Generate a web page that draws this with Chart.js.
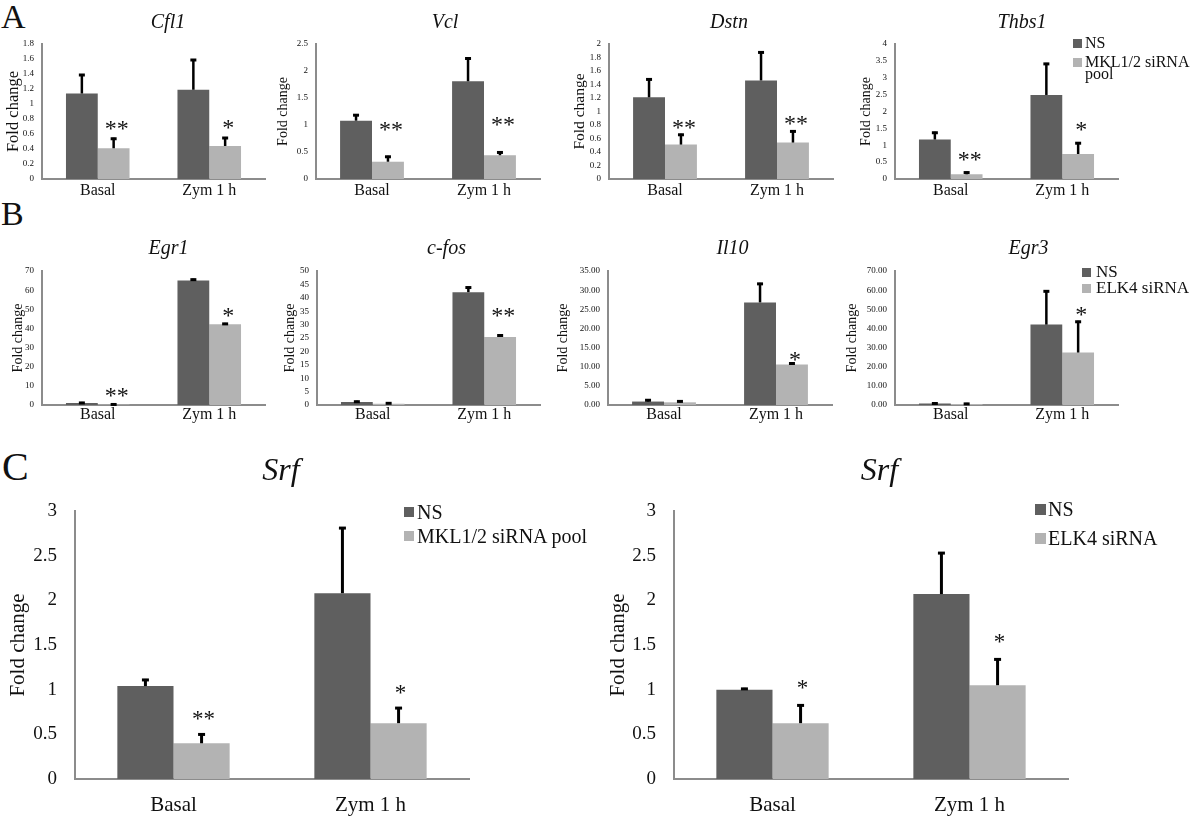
<!DOCTYPE html>
<html>
<head>
<meta charset="utf-8">
<script src="https://cdn.jsdelivr.net/npm/chart.js@4.4.1/dist/chart.umd.min.js"></script>
<style>
  body { margin: 0; width: 1200px; height: 818px; position: relative; overflow: hidden; background: #fff; font-family: "Liberation Serif", serif; color: #111; }
  canvas { position: absolute; }
  .letter { position: absolute; line-height: 1; }
  .lg { position: absolute; }
  .lg .sq { position: absolute; left: 0; }
  .lg .tx { position: absolute; white-space: normal; }
</style>
</head>
<body>
<div class="letter" style="left:1px;top:0px;font-size:34px">A</div>
<div class="letter" style="left:1px;top:197px;font-size:34px">B</div>
<div class="letter" style="left:2px;top:447px;font-size:40px">C</div>
<script>
// ---- data ----
const categories = ['Basal', 'Zym 1 h'];
const mklLabels = ['NS', 'MKL1/2 siRNA pool'];
const elkLabels = ['NS', 'ELK4 siRNA'];
const seriesColors = ['#5f5f5f', '#b3b3b3'];

// panel A (MKL1/2 knockdown)
const cfl1NS = [1.14, 1.19];
const cfl1NSErr = [0.26, 0.41];
const cfl1KD = [0.41, 0.44];
const cfl1KDErr = [0.14, 0.12];
const cfl1Sig = ['**', '*'];
const cfl1Ticks = [0, 0.2, 0.4, 0.6, 0.8, 1, 1.2, 1.4, 1.6, 1.8];

const vclNS = [1.08, 1.81];
const vclNSErr = [0.12, 0.44];
const vclKD = [0.32, 0.44];
const vclKDErr = [0.11, 0.07];
const vclSig = ['**', '**'];
const vclTicks = [0, 0.5, 1, 1.5, 2, 2.5];

const dstnNS = [1.21, 1.46];
const dstnNSErr = [0.28, 0.43];
const dstnKD = [0.51, 0.54];
const dstnKDErr = [0.16, 0.18];
const dstnSig = ['**', '**'];
const dstnTicks = [0, 0.2, 0.4, 0.6, 0.8, 1, 1.2, 1.4, 1.6, 1.8, 2];

const thbs1NS = [1.17, 2.49];
const thbs1NSErr = [0.23, 0.95];
const thbs1KD = [0.14, 0.74];
const thbs1KDErr = [0.08, 0.35];
const thbs1Sig = ['**', '*'];
const thbs1Ticks = [0, 0.5, 1, 1.5, 2, 2.5, 3, 3.5, 4];

// panel B (ELK4 knockdown)
const egr1NS = [1.0, 65.1];
const egr1NSErr = [0.6, 0.9];
const egr1KD = [0.3, 42.2];
const egr1KDErr = [0.5, 0.7];
const egr1Sig = ['**', '*'];
const egr1Ticks = [0, 10, 20, 30, 40, 50, 60, 70];

const cfosNS = [1.1, 42.1];
const cfosNSErr = [0.5, 2.1];
const cfosKD = [0.5, 25.4];
const cfosKDErr = [0.5, 0.9];
const cfosSig = ['', '**'];
const cfosTicks = [0, 5, 10, 15, 20, 25, 30, 35, 40, 45, 50];

const il10NS = [0.9, 26.8];
const il10NSErr = [0.6, 5.1];
const il10KD = [0.7, 10.6];
const il10KDErr = [0.5, 0.5];
const il10Sig = ['', '*'];
const il10Ticks = [0, 5, 10, 15, 20, 25, 30, 35];

const egr3NS = [0.8, 42.0];
const egr3NSErr = [0.5, 17.9];
const egr3KD = [0.5, 27.4];
const egr3KDErr = [0.6, 16.6];
const egr3Sig = ['', '*'];
const egr3Ticks = [0, 10, 20, 30, 40, 50, 60, 70];

// panel C (Srf)
const srfMklNS = [1.04, 2.08];
const srfMklNSErr = [0.08, 0.74];
const srfMklKD = [0.40, 0.625];
const srfMklKDErr = [0.11, 0.18];
const srfMklSig = ['**', '*'];

const srfElkNS = [1.0, 2.07];
const srfElkNSErr = [0.02, 0.47];
const srfElkKD = [0.625, 1.05];
const srfElkKDErr = [0.21, 0.30];
const srfElkSig = ['*', '*'];
const srfTicks = [0, 0.5, 1, 1.5, 2, 2.5, 3];

// ---- drawing ----
const SERIF = '"Liberation Serif", "Times New Roman", serif';
const INK = '#111';

// error bars, significance marks and the italic gene title
const extras = {
  id: 'extras',
  afterDatasetsDraw(chart, args, o) {
    const { ctx, chartArea } = chart;
    const y = chart.scales.y;
    ctx.save();
    chart.data.datasets.forEach((ds, di) => {
      chart.getDatasetMeta(di).data.forEach((bar, i) => {
        const top = y.getPixelForValue(ds.data[i] + ds.errors[i]);
        ctx.strokeStyle = '#000';
        ctx.lineWidth = o.errWidth;
        ctx.beginPath();
        ctx.moveTo(bar.x, bar.y);
        ctx.lineTo(bar.x, top);
        ctx.stroke();
        ctx.lineWidth = 3;
        ctx.beginPath();
        ctx.moveTo(bar.x - o.cap / 2, top + 1);
        ctx.lineTo(bar.x + o.cap / 2, top + 1);
        ctx.stroke();
        const mark = ds.marks ? ds.marks[i] : '';
        if (mark) {
          ctx.fillStyle = INK;
          ctx.font = o.sigSize + 'px ' + SERIF;
          ctx.textAlign = 'center';
          ctx.textBaseline = 'alphabetic';
          ctx.fillText(mark, bar.x + o.sigDx, top - o.sigGap);
        }
      });
    });
    ctx.fillStyle = INK;
    ctx.font = 'italic ' + o.titleSize + 'px ' + SERIF;
    ctx.textAlign = 'center';
    ctx.textBaseline = 'middle';
    ctx.fillText(o.title, (chartArea.left + chartArea.right) / 2 + o.titleDx, chartArea.top - o.titleRise);
    ctx.restore();
  }
};

const rowA = { tickSize: 9, tickPad: 8, xSize: 16, xPad: 2, xH: 30, titleSize: 20, titleRise: 21, padTop: 36, errWidth: 2.5, cap: 6, sigSize: 24, sigDx: 3 };
const rowB = { tickSize: 9, tickPad: 8, xSize: 16, xPad: 0, xH: 28, titleSize: 20, titleRise: 22, padTop: 38, errWidth: 2.5, cap: 6, sigSize: 24, sigDx: 3 };
const rowC = { tickSize: 19, tickPad: 18, xSize: 21, xPad: 14, xH: 45, titleSize: 32, titleRise: 39, padTop: 62, errWidth: 3, cap: 7, sigSize: 23, sigDx: 2 };

const panels = [
  { row: rowA, title: 'Cfl1', labels: mklLabels, ns: cfl1NS, nsErr: cfl1NSErr, kd: cfl1KD, kdErr: cfl1KDErr, sig: cfl1Sig, ticks: cfl1Ticks,
    plot: [42, 44, 265, 179], yD: 28.5, ySize: 16.5, titleDx: 14.5, sigGap: 2 },
  { row: rowA, title: 'Vcl', labels: mklLabels, ns: vclNS, nsErr: vclNSErr, kd: vclKD, kdErr: vclKDErr, sig: vclSig, ticks: vclTicks,
    plot: [316, 44, 540, 179], yD: 33, ySize: 14, titleDx: 17, sigGap: 19 },
  { row: rowA, title: 'Dstn', labels: mklLabels, ns: dstnNS, nsErr: dstnNSErr, kd: dstnKD, kdErr: dstnKDErr, sig: dstnSig, ticks: dstnTicks,
    plot: [609, 44, 833, 179], yD: 29.5, ySize: 15.5, titleDx: 8, sigGap: -1 },
  { row: rowA, title: 'Thbs1', labels: mklLabels, ns: thbs1NS, nsErr: thbs1NSErr, kd: thbs1KD, kdErr: thbs1KDErr, sig: thbs1Sig, ticks: thbs1Ticks,
    plot: [895, 44, 1118, 179], yD: 28.5, ySize: 14, titleDx: 15.5, sigGap: 5 },

  { row: rowB, title: 'Egr1', labels: elkLabels, ns: egr1NS, nsErr: egr1NSErr, kd: egr1KD, kdErr: egr1KDErr, sig: egr1Sig, ticks: egr1Ticks,
    plot: [42, 271, 265, 405], yD: 24, ySize: 14, titleDx: 15, sigGap: 0 },
  { row: rowB, title: 'c-fos', labels: elkLabels, ns: cfosNS, nsErr: cfosNSErr, kd: cfosKD, kdErr: cfosKDErr, sig: cfosSig, ticks: cfosTicks,
    plot: [317, 271, 540, 405], yD: 26.7, ySize: 14, titleDx: 18, sigGap: 12 },
  { row: rowB, title: 'Il10', labels: elkLabels, ns: il10NS, nsErr: il10NSErr, kd: il10KD, kdErr: il10KDErr, sig: il10Sig, ticks: il10Ticks,
    plot: [608, 271, 832, 405], yD: 44.7, ySize: 14, titleDx: 12.5, sigGap: -4, decimals: 2 },
  { row: rowB, title: 'Egr3', labels: elkLabels, ns: egr3NS, nsErr: egr3NSErr, kd: egr3KD, kdErr: egr3KDErr, sig: egr3Sig, ticks: egr3Ticks,
    plot: [895, 271, 1118, 405], yD: 43, ySize: 14, titleDx: 22, sigGap: -1, decimals: 2 },

  { row: rowC, title: 'Srf', labels: mklLabels, ns: srfMklNS, nsErr: srfMklNSErr, kd: srfMklKD, kdErr: srfMklKDErr, sig: srfMklSig, ticks: srfTicks,
    plot: [75, 511, 469, 779], yD: 57, ySize: 21, titleDx: 9, sigGap: 7 },
  { row: rowC, title: 'Srf', labels: elkLabels, ns: srfElkNS, nsErr: srfElkNSErr, kd: srfElkKD, kdErr: srfElkKDErr, sig: srfElkSig, ticks: srfTicks,
    plot: [674, 511, 1068, 779], yD: 55.5, ySize: 21, titleDx: 8.5, sigGap: 9 }
];

function drawPanel(p) {
  const r = p.row;
  const [pl, pt, pr, pb] = p.plot;
  const yW = p.yD + 0.6 * p.ySize + 2;
  const padRight = 25;
  const left = Math.round(pl - yW);
  const top = pt - r.padTop;
  const width = Math.round(pr - left + padRight);
  const height = pb + r.xH - top;
  const yWidth = pl - left;

  const canvas = document.createElement('canvas');
  canvas.width = width;
  canvas.height = height;
  canvas.style.left = left + 'px';
  canvas.style.top = top + 'px';
  canvas.style.width = width + 'px';
  canvas.style.height = height + 'px';
  document.body.appendChild(canvas);

  new Chart(canvas, {
    type: 'bar',
    data: {
      labels: categories,
      datasets: [
        { label: p.labels[0], data: p.ns, errors: p.nsErr, backgroundColor: seriesColors[0], borderWidth: 0 },
        { label: p.labels[1], data: p.kd, errors: p.kdErr, marks: p.sig, backgroundColor: seriesColors[1], borderWidth: 0 }
      ]
    },
    options: {
      responsive: false,
      animation: false,
      devicePixelRatio: 1,
      layout: { padding: { left: 0, top: r.padTop, right: padRight, bottom: 0 } },
      datasets: { bar: { categoryPercentage: 0.57, barPercentage: 1.0 } },
      plugins: {
        legend: { display: false },
        tooltip: { enabled: false },
        extras: {
          title: p.title, titleSize: r.titleSize, titleRise: r.titleRise, titleDx: p.titleDx,
          errWidth: r.errWidth, cap: r.cap, sigSize: r.sigSize, sigDx: r.sigDx, sigGap: p.sigGap
        }
      },
      scales: {
        x: {
          grid: { display: false, drawTicks: false },
          border: { display: true, color: '#8c8c8c', width: 2 },
          ticks: { color: INK, padding: r.xPad, font: { family: SERIF, size: r.xSize } },
          afterFit: s => { s.height = r.xH; }
        },
        y: {
          min: p.ticks[0],
          max: p.ticks[p.ticks.length - 1],
          grid: { display: false, drawTicks: false },
          border: { display: true, color: '#8c8c8c', width: 2 },
          afterBuildTicks: s => { s.ticks = p.ticks.map(v => ({ value: v })); },
          ticks: {
            color: INK, padding: r.tickPad, autoSkip: false,
            font: { family: SERIF, size: r.tickSize },
            callback: v => p.decimals ? v.toFixed(p.decimals) : String(v)
          },
          title: {
            display: true, text: 'Fold change', color: INK,
            font: { family: SERIF, size: p.ySize },
            padding: { top: yWidth - p.yD - 0.6 * p.ySize, bottom: 0 }
          },
          afterFit: s => { s.width = yWidth; }
        }
      }
    },
    plugins: [extras]
  });
}

panels.forEach(drawPanel);

// ---- legends ----
const legends = [
  { x: 1073, y: 43, step: 19, size: 16, sq: 9, gap: 3, lh: 12, width: 113, labels: mklLabels },
  { x: 1082, y: 272, step: 16, size: 17, sq: 9, gap: 5, lh: 16, width: 112, labels: elkLabels },
  { x: 404, y: 512, step: 24, size: 20, sq: 10, gap: 3, lh: 22, width: 200, labels: mklLabels },
  { x: 1035, y: 509, step: 29, size: 20, sq: 11, gap: 2, lh: 22, width: 150, labels: elkLabels }
];

legends.forEach(l => {
  l.labels.forEach((text, i) => {
    const item = document.createElement('div');
    item.className = 'lg';
    item.style.left = l.x + 'px';
    item.style.top = (l.y + i * l.step - l.lh / 2) + 'px';
    const sq = document.createElement('span');
    sq.className = 'sq';
    sq.style.cssText = `top:${(l.lh - l.sq) / 2}px;width:${l.sq}px;height:${l.sq}px;background:${seriesColors[i]}`;
    const tx = document.createElement('span');
    tx.className = 'tx';
    tx.style.cssText = `left:${l.sq + l.gap}px;top:0;width:${l.width}px;font-size:${l.size}px;line-height:${l.lh}px`;
    tx.textContent = text;
    item.appendChild(sq);
    item.appendChild(tx);
    document.body.appendChild(item);
  });
});
</script>
</body>
</html>
